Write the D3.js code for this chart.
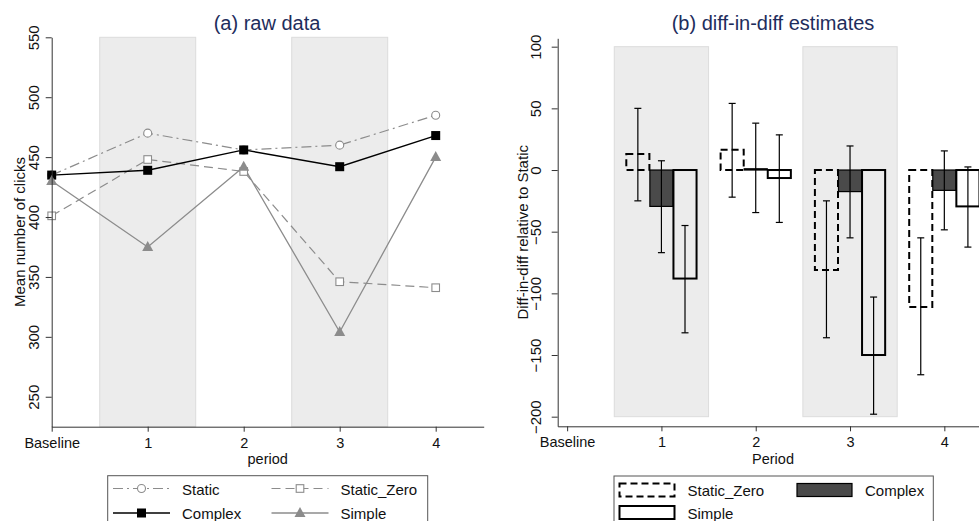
<!DOCTYPE html>
<html>
<head>
<meta charset="utf-8">
<script src="https://cdn.jsdelivr.net/npm/d3@7"></script>
<style>
  html, body { margin: 0; padding: 0; background: #fff; }
  svg { display: block; font-family: "Liberation Sans", Arial, Helvetica, sans-serif; }
</style>
</head>
<body>
<svg id="chart" width="979" height="521"></svg>
<script>
// ---- Data ----
const periodLabels = ["Baseline", "1", "2", "3", "4"];
const periods = [0, 1, 2, 3, 4];
const shadedPeriods = [1, 3];

// (a) mean clicks per period
const rawStatic     = [435, 470, 456, 460, 485];
const rawStaticZero = [401, 448, 438, 346, 341];
const rawComplex    = [435, 439, 456, 442, 468];
const rawSimple     = [430, 375, 442, 304, 450];

// (b) diff-in-diff estimates with confidence intervals, periods 1..4
const didPeriods = [1, 2, 3, 4];
const didStaticZero    = [13, 16.5, -81, -111];
const didStaticZeroLo  = [-25, -22, -136, -166];
const didStaticZeroHi  = [50, 54, -25, -55];
const didComplex       = [-29.5, 1, -17.5, -16.5];
const didComplexLo     = [-67, -34.5, -55, -48.5];
const didComplexHi     = [7.5, 38, 19.5, 15.5];
const didSimple        = [-88, -6.5, -150, -29.5];
const didSimpleLo      = [-132, -42.5, -198, -62.5];
const didSimpleHi      = [-45, 28.5, -103, 2.5];

const leftTicks = [250, 300, 350, 400, 450, 500, 550];
const rightTicks = [-200, -150, -100, -50, 0, 50, 100];

const svg = d3.select("#chart");
const titleColor = "#1e2d5c";
const axisColor = "#333";
const textColor = "#111";
const gray = "#8c8c8c";
const fs = 15;
const fsAxis = 14.5;

// ================= (a) raw data =================
const xL = d3.scaleLinear().domain([0, 4.5]).range([51.7, 483.7]);
const yL = d3.scaleLinear().domain([225, 550]).range([426.7, 37.3]);

const gA = svg.append("g");

// shaded treatment periods
gA.selectAll("rect.shade").data(shadedPeriods).join("rect")
  .attr("x", d => xL(d - 0.5)).attr("width", d => xL(d + 0.5) - xL(d - 0.5))
  .attr("y", yL(550)).attr("height", yL(225) - yL(550))
  .attr("fill", "#ececec").attr("stroke", "#dcdcdc").attr("stroke-width", 1);

const seriesA = [
  { name: "Static",      values: rawStatic,     color: gray,   dash: "10,4,2,4", width: 1.2, marker: "circle" },
  { name: "Static_Zero", values: rawStaticZero, color: gray,   dash: "9,5",      width: 1.2, marker: "square-open" },
  { name: "Complex",     values: rawComplex,    color: "#000", dash: null,       width: 1.4, marker: "square" },
  { name: "Simple",      values: rawSimple,     color: gray,   dash: null,       width: 1.3, marker: "triangle" }
];

const line = d3.line().x((d, i) => xL(periods[i])).y(d => yL(d));

function drawMarker(g, type, color, x, y) {
  if (type === "circle") {
    g.append("circle").attr("cx", x).attr("cy", y).attr("r", 4)
      .attr("fill", "#fff").attr("stroke", color).attr("stroke-width", 1.1);
  } else if (type === "square-open") {
    g.append("rect").attr("x", x - 3.8).attr("y", y - 3.8).attr("width", 7.6).attr("height", 7.6)
      .attr("fill", "#fff").attr("stroke", color).attr("stroke-width", 1.1);
  } else if (type === "square") {
    g.append("rect").attr("x", x - 4.5).attr("y", y - 4.5).attr("width", 9).attr("height", 9)
      .attr("fill", "#000");
  } else if (type === "triangle") {
    g.append("path").attr("d", `M${x},${y - 6}L${x + 5.5},${y + 4}L${x - 5.5},${y + 4}Z`)
      .attr("fill", color);
  }
}

seriesA.forEach(s => {
  gA.append("path").datum(s.values).attr("d", line)
    .attr("fill", "none").attr("stroke", s.color).attr("stroke-width", s.width)
    .attr("stroke-dasharray", s.dash);
});
seriesA.forEach(s => {
  s.values.forEach((v, i) => drawMarker(gA, s.marker, s.color, xL(periods[i]), yL(v)));
});

// axes
const yAxisL = d3.axisLeft(yL).tickValues(leftTicks).tickSize(6).tickSizeOuter(0);
const yAxL = gA.append("g").attr("transform", `translate(${xL(0)},0)`).call(yAxisL);
yAxL.select(".domain").attr("stroke", axisColor);
yAxL.selectAll(".tick line").attr("stroke", axisColor);
yAxL.selectAll(".tick text").attr("font-size", fs).attr("fill", textColor)
  .attr("text-anchor", "middle").attr("x", 0).attr("y", 0).attr("dy", 0)
  .attr("transform", "translate(-12.5,0) rotate(-90)");

const xAxisL = d3.axisBottom(xL).tickValues(periods).tickFormat((d, i) => periodLabels[i]).tickSize(5).tickSizeOuter(0);
const xAxL = gA.append("g").attr("transform", `translate(0,${yL(225)})`).call(xAxisL);
xAxL.select(".domain").attr("stroke", axisColor);
xAxL.selectAll(".tick line").attr("stroke", axisColor);
xAxL.selectAll(".tick text").attr("font-size", fsAxis).attr("fill", textColor).attr("dy", 0).attr("y", 21);

gA.append("text").attr("x", (xL(0) + xL(4.5)) / 2).attr("y", 464)
  .attr("text-anchor", "middle").attr("font-size", fsAxis).attr("fill", textColor).text("period");
gA.append("text").attr("transform", `translate(25,${(yL(225) + yL(550)) / 2}) rotate(-90)`)
  .attr("text-anchor", "middle").attr("font-size", fs).attr("fill", textColor).text("Mean number of clicks");
gA.append("text").attr("x", 267).attr("y", 29.5)
  .attr("text-anchor", "middle").attr("font-size", 20).attr("fill", titleColor).text("(a) raw data");

// legend (a)
const legA = gA.append("g");
legA.append("rect").attr("x", 107.7).attr("y", 475.7).attr("width", 320).attr("height", 60)
  .attr("fill", "#fff").attr("stroke", "#555").attr("stroke-width", 1);
const legAItems = [
  { s: seriesA[0], x: 113, y: 488.5 },
  { s: seriesA[1], x: 271.5, y: 488.5 },
  { s: seriesA[2], x: 113, y: 513 },
  { s: seriesA[3], x: 271.5, y: 513 }
];
legAItems.forEach(it => {
  legA.append("line").attr("x1", it.x).attr("x2", it.x + 57).attr("y1", it.y).attr("y2", it.y)
    .attr("stroke", it.s.color).attr("stroke-width", it.s.width).attr("stroke-dasharray", it.s.dash);
  drawMarker(legA, it.s.marker, it.s.color, it.x + 28.5, it.y);
  legA.append("text").attr("x", it.x + 69).attr("y", it.y + 6)
    .attr("font-size", fs).attr("fill", textColor).text(it.s.name);
});

// ================= (b) diff-in-diff estimates =================
const xR = d3.scaleLinear().domain([-0.1, 4.5]).range([557.7, 557.7 + 4.6 * 94.3]);
const yR = d3.scaleLinear().domain([-207.8, 106.8]).range([426.3, 38.3]);

const gB = svg.append("g");

gB.selectAll("rect.shade").data(shadedPeriods).join("rect")
  .attr("x", d => xR(d - 0.5)).attr("width", d => xR(d + 0.5) - xR(d - 0.5))
  .attr("y", yR(100)).attr("height", yR(-200) - yR(100))
  .attr("fill", "#ececec").attr("stroke", "#dcdcdc").attr("stroke-width", 1);

const barW = 0.245;
const seriesB = [
  { name: "Static_Zero", offset: -0.25, vals: didStaticZero, lo: didStaticZeroLo, hi: didStaticZeroHi,
    fill: "none", stroke: "#000", sw: 2, dash: "7,4" },
  { name: "Complex", offset: 0, vals: didComplex, lo: didComplexLo, hi: didComplexHi,
    fill: "#4a4a4a", stroke: "#000", sw: 1.2, dash: null },
  { name: "Simple", offset: 0.25, vals: didSimple, lo: didSimpleLo, hi: didSimpleHi,
    fill: "none", stroke: "#000", sw: 2, dash: null }
];

seriesB.forEach(s => {
  gB.selectAll(null).data(didPeriods).join("rect")
    .attr("x", (d, i) => xR(d + s.offset - barW / 2))
    .attr("width", xR(barW) - xR(0))
    .attr("y", (d, i) => yR(Math.max(0, s.vals[i])))
    .attr("height", (d, i) => Math.abs(yR(s.vals[i]) - yR(0)))
    .attr("fill", s.fill).attr("stroke", s.stroke).attr("stroke-width", s.sw)
    .attr("stroke-dasharray", s.dash);
});

// confidence intervals
seriesB.forEach(s => {
  didPeriods.forEach((p, i) => {
    const cx = xR(p + s.offset);
    gB.append("line").attr("x1", cx).attr("x2", cx).attr("y1", yR(s.hi[i])).attr("y2", yR(s.lo[i]))
      .attr("stroke", "#000").attr("stroke-width", 1.2);
    [s.hi[i], s.lo[i]].forEach(v => {
      gB.append("line").attr("x1", cx - 3.5).attr("x2", cx + 3.5).attr("y1", yR(v)).attr("y2", yR(v))
        .attr("stroke", "#000").attr("stroke-width", 1.2);
    });
  });
});

const yAxisR = d3.axisLeft(yR).tickValues(rightTicks).tickSize(6).tickSizeOuter(0);
const yAxR = gB.append("g").attr("transform", `translate(${xR(-0.1)},0)`).call(yAxisR);
yAxR.select(".domain").attr("stroke", axisColor);
yAxR.selectAll(".tick line").attr("stroke", axisColor);
yAxR.selectAll(".tick text").attr("font-size", fs).attr("fill", textColor)
  .attr("text-anchor", "middle").attr("x", 0).attr("y", 0).attr("dy", 0)
  .attr("transform", "translate(-16.5,0) rotate(-90)");

const xAxisR = d3.axisBottom(xR).tickValues(periods).tickFormat((d, i) => periodLabels[i]).tickSize(5).tickSizeOuter(0);
const xAxR = gB.append("g").attr("transform", `translate(0,${yR(-207.8)})`).call(xAxisR);
xAxR.select(".domain").attr("stroke", axisColor);
xAxR.selectAll(".tick line").attr("stroke", axisColor);
xAxR.selectAll(".tick text").attr("font-size", fsAxis).attr("fill", textColor).attr("dy", 0).attr("y", 21.2);

gB.append("text").attr("x", 773).attr("y", 464)
  .attr("text-anchor", "middle").attr("font-size", fsAxis).attr("fill", textColor).text("Period");
gB.append("text").attr("transform", `translate(528,${(yR(-207.8) + yR(106.8)) / 2}) rotate(-90)`)
  .attr("text-anchor", "middle").attr("font-size", fs).attr("fill", textColor).text("Diff-in-diff relative to Static");
gB.append("text").attr("x", 773).attr("y", 29.5)
  .attr("text-anchor", "middle").attr("font-size", 20).attr("fill", titleColor).text("(b) diff-in-diff estimates");

// legend (b)
const legB = gB.append("g");
legB.append("rect").attr("x", 614).attr("y", 476).attr("width", 319.3).attr("height", 60)
  .attr("fill", "#fff").attr("stroke", "#555").attr("stroke-width", 1);
const legBItems = [
  { s: seriesB[0], x: 619.5, y: 483.5 },
  { s: seriesB[1], x: 797, y: 483.5 },
  { s: seriesB[2], x: 619.5, y: 506 }
];
legBItems.forEach(it => {
  legB.append("rect").attr("x", it.x).attr("y", it.y).attr("width", 55).attr("height", 13)
    .attr("fill", it.s.fill === "none" ? "#fff" : it.s.fill)
    .attr("stroke", "#000").attr("stroke-width", it.s.sw).attr("stroke-dasharray", it.s.dash);
  legB.append("text").attr("x", it.x + 68).attr("y", it.y + 12.5)
    .attr("font-size", fs).attr("fill", textColor).text(it.s.name);
});
</script>
</body>
</html>
